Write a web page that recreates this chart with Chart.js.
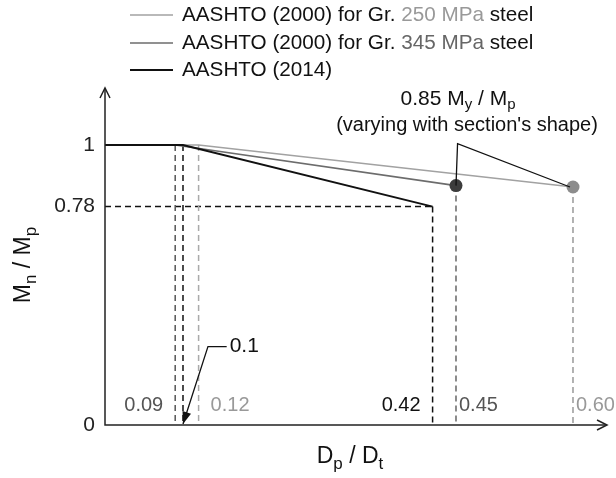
<!DOCTYPE html>
<html lang="en">
<head>
  <meta charset="UTF-8">
  <title>Mn / Mp vs Dp / Dt</title>
  <script src="https://cdn.jsdelivr.net/npm/chart.js"></script>
  <style>
    html, body { margin: 0; padding: 0; background: #fff; }
    #wrap { width: 616px; height: 478px; }
  </style>
</head>
<body>
  <div id="wrap"><canvas id="chart"></canvas></div>
  <script>
    // curves (Dp/Dt -> Mn/Mp)
    const gr250X = [0, 0.12, 0.60];
    const gr250Y = [1, 1, 0.85];
    const gr345X = [0, 0.09, 0.45];
    const gr345Y = [1, 1, 0.855];
    const aashto14X = [0, 0.10, 0.42];
    const aashto14Y = [1, 1, 0.78];

    // dashed guides: verticals drop from the curve to the axis
    const guideX = [0.09, 0.10, 0.12, 0.42, 0.45, 0.60];
    const guideTop = [1, 1, 1, 0.78, 0.855, 0.85];
    const limitY = 0.78;   // horizontal guide, 0 -> 0.42

    const yTicks = [0, 0.78, 1];
    const xLabelValues = [0.09, 0.12, 0.42, 0.45, 0.60];
    const xLabels = ['0.09', '0.12', '0.42', '0.45', '0.60'];

    const LIGHT = '#a2a2a2', MID = '#6c6c6c', DARK = '#111111';
    const FONT = '"Liberation Sans", Arial, sans-serif';
    const guideColors = ['#555', '#111', '#aaa', '#111', '#666', '#999'];
    const xLabelColors = ['#555', '#999', '#111', '#555', '#999'];

    const pts = (xs, ys) => xs.map((x, i) => ({ x: x, y: ys[i] }));

    const datasets = [
      { label: 'AASHTO (2000) for Gr. 250 MPa steel', data: pts(gr250X, gr250Y),
        borderColor: LIGHT, borderWidth: 1.6, pointRadius: [0, 0, 6.5],
        pointBackgroundColor: '#8c8c8c', pointBorderWidth: 0, order: 3 },
      { label: 'AASHTO (2000) for Gr. 345 MPa steel', data: pts(gr345X, gr345Y),
        borderColor: MID, borderWidth: 1.6, pointRadius: [0, 0, 6.5],
        pointBackgroundColor: '#3c3c3c', pointBorderWidth: 0, order: 2 },
      { label: 'AASHTO (2014)', data: pts(aashto14X, aashto14Y),
        borderColor: DARK, borderWidth: 2, pointRadius: 0, order: 1 }
    ];
    guideX.forEach((x, i) => {
      datasets.push({ label: '', data: [{ x: x, y: guideTop[i] }, { x: x, y: 0 }],
        borderColor: guideColors[i], borderWidth: 1.5, borderDash: [6, 4],
        pointRadius: 0, order: 10 });
    });
    datasets.push({ label: '', data: [{ x: 0, y: limitY }, { x: aashto14X[2], y: limitY }],
      borderColor: '#111', borderWidth: 1.5, borderDash: [6, 4], pointRadius: 0, order: 10 });

    // text with subscripts: parts = [[text, isSub], ...]
    function subText(ctx, parts, x, y, size, align, color) {
      const subSize = Math.round(size * 0.72);
      let w = 0;
      parts.forEach(p => {
        ctx.font = (p[1] ? subSize : size) + 'px ' + FONT;
        w += ctx.measureText(p[0]).width;
      });
      let cx = align === 'center' ? x - w / 2 : x;
      ctx.fillStyle = color;
      ctx.textAlign = 'left';
      ctx.textBaseline = 'middle';
      parts.forEach(p => {
        ctx.font = (p[1] ? subSize : size) + 'px ' + FONT;
        ctx.fillText(p[0], cx, p[1] ? y + size * 0.3 : y);
        cx += ctx.measureText(p[0]).width;
      });
    }

    const sketch = {
      id: 'sketch',
      afterDraw(chart) {
        const ctx = chart.ctx;
        const xs = chart.scales.x, ys = chart.scales.y;
        const a = chart.chartArea;
        ctx.save();

        // axes with open arrow heads
        ctx.strokeStyle = '#222';
        ctx.lineWidth = 1.5;
        ctx.beginPath();
        ctx.moveTo(a.left, a.top); ctx.lineTo(a.left, a.bottom); ctx.lineTo(a.right, a.bottom);
        ctx.stroke();
        ctx.beginPath();
        ctx.moveTo(a.left - 5, a.top + 10); ctx.lineTo(a.left, a.top); ctx.lineTo(a.left + 5, a.top + 10);
        ctx.moveTo(a.right - 10, a.bottom - 5); ctx.lineTo(a.right, a.bottom); ctx.lineTo(a.right - 10, a.bottom + 5);
        ctx.stroke();

        // x value labels inside the plot
        ctx.font = '20px ' + FONT;
        ctx.textBaseline = 'middle';
        xLabelValues.forEach((v, i) => {
          const px = xs.getPixelForValue(v);
          const left = i === 0 || i === 2;
          const gap = (i === 0 || i === 1 || i === 2) ? 12 : 3;
          ctx.fillStyle = xLabelColors[i];
          ctx.textAlign = left ? 'right' : 'left';
          ctx.fillText(xLabels[i], left ? px - gap : px + gap, a.bottom - 20);
        });

        // 0.1 callout
        const tipX = xs.getPixelForValue(0.10), tipY = a.bottom - 1;
        const kneeX = xs.getPixelForValue(0.132), kneeY = ys.getPixelForValue(0.28);
        const endX = xs.getPixelForValue(0.156);
        ctx.strokeStyle = '#111';
        ctx.lineWidth = 1.3;
        ctx.beginPath();
        ctx.moveTo(endX, kneeY); ctx.lineTo(kneeX, kneeY); ctx.lineTo(tipX, tipY);
        ctx.stroke();
        const ang = Math.atan2(tipY - kneeY, tipX - kneeX);
        ctx.fillStyle = '#111';
        ctx.beginPath();
        ctx.moveTo(tipX, tipY);
        ctx.lineTo(tipX - 13 * Math.cos(ang - 0.35), tipY - 13 * Math.sin(ang - 0.35));
        ctx.lineTo(tipX - 13 * Math.cos(ang + 0.35), tipY - 13 * Math.sin(ang + 0.35));
        ctx.closePath();
        ctx.fill();
        ctx.font = '21px ' + FONT;
        ctx.textAlign = 'left';
        ctx.fillText('0.1', endX + 3, kneeY);

        // 0.85 My/Mp callout
        const apexX = xs.getPixelForValue(0.452), apexY = ys.getPixelForValue(1.005);
        ctx.lineWidth = 1.3;
        ctx.beginPath();
        ctx.moveTo(xs.getPixelForValue(gr345X[2]), ys.getPixelForValue(gr345Y[2]));
        ctx.lineTo(apexX, apexY);
        ctx.lineTo(xs.getPixelForValue(gr250X[2]) - 3, ys.getPixelForValue(gr250Y[2]));
        ctx.stroke();
        subText(ctx, [['0.85 M', false], ['y', true], [' / M', false], ['p', true]], 458, 99, 21, 'center', '#111');
        ctx.font = '20px ' + FONT;
        ctx.textAlign = 'center';
        ctx.fillStyle = '#111';
        ctx.fillText("(varying with section's shape)", 467, 125);

        // legend
        const rows = [15, 43, 70];
        const legendParts = [
          [['AASHTO (2000) for Gr. ', '#111'], ['250 MPa', '#999'], [' steel', '#111']],
          [['AASHTO (2000) for Gr. ', '#111'], ['345 MPa', '#666'], [' steel', '#111']],
          [['AASHTO (2014)', '#111']]
        ];
        chart.data.datasets.slice(0, 3).forEach((ds, i) => {
          ctx.strokeStyle = ds.borderColor;
          ctx.lineWidth = ds.borderWidth;
          ctx.beginPath();
          ctx.moveTo(130, rows[i]); ctx.lineTo(173, rows[i]);
          ctx.stroke();
          let cx = 182;
          ctx.font = '20.7px ' + FONT;
          ctx.textAlign = 'left';
          ctx.textBaseline = 'middle';
          legendParts[i].forEach(p => {
            ctx.fillStyle = p[1];
            ctx.fillText(p[0], cx, rows[i]);
            cx += ctx.measureText(p[0]).width;
          });
        });

        // axis titles
        subText(ctx, [['D', false], ['p', true], [' / D', false], ['t', true]], 350, 457, 23, 'center', '#111');
        ctx.save();
        ctx.translate(24, 265);
        ctx.rotate(-Math.PI / 2);
        subText(ctx, [['M', false], ['n', true], [' / M', false], ['p', true]], 0, 0, 23, 'center', '#111');
        ctx.restore();

        ctx.restore();
      }
    };

    new Chart(document.getElementById('chart'), {
      type: 'line',
      data: { datasets: datasets },
      options: {
        responsive: true,
        maintainAspectRatio: false,
        animation: false,
        layout: { padding: { top: 88, right: 9, bottom: 53, left: 0 } },
        plugins: { legend: { display: false }, tooltip: { enabled: false } },
        elements: { line: { tension: 0 } },
        scales: {
          x: { type: 'linear', display: false, min: 0, max: 0.6436 },
          y: {
            type: 'linear', min: 0, max: 1.2036,
            grid: { display: false, drawTicks: false },
            border: { display: false },
            afterBuildTicks: s => { s.ticks = yTicks.map(v => ({ value: v })); },
            afterFit: s => { s.width = 105; },
            ticks: {
              padding: 10, color: '#222',
              font: { size: 21, family: FONT },
              callback: v => String(v)
            }
          }
        }
      },
      plugins: [sketch]
    });
  </script>
</body>
</html>
